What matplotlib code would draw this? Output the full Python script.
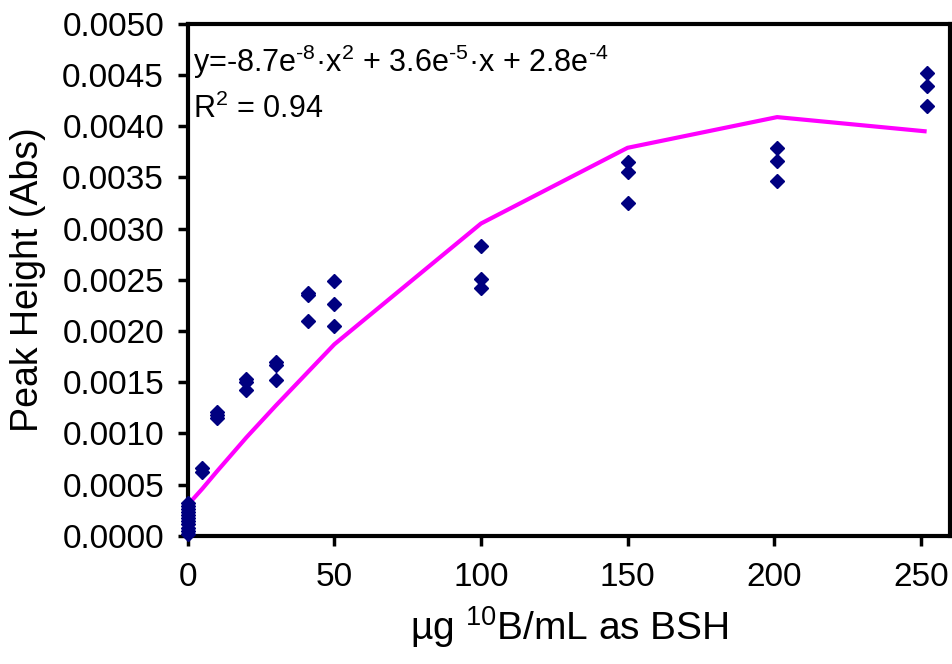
import matplotlib
matplotlib.use("Agg")
import matplotlib.pyplot as plt

plt.rcParams['font.family'] = ['Liberation Sans', 'DejaVu Sans']
plt.rcParams['mathtext.fontset'] = 'custom'
plt.rcParams['mathtext.rm'] = 'Liberation Sans'
plt.rcParams['mathtext.it'] = 'Liberation Sans'
plt.rcParams['mathtext.bf'] = 'Liberation Sans:bold'

# Measured data (x = µg 10B/mL, y = peak height in Abs)
x0_vals = [0] * 11
y0_vals = [0.00002, 0.00005, 0.00008, 0.00011, 0.00014, 0.00017, 0.00020,
           0.00023, 0.00026, 0.00029, 0.00032]
x_pts = [5, 5, 10, 10, 10, 20, 20, 20, 30, 30, 30, 41, 41, 41, 50, 50, 50,
         100, 100, 100, 150, 150, 150, 201, 201, 201, 252, 252, 252]
y_pts = [0.00066, 0.00062, 0.00121, 0.00118, 0.00115, 0.00153, 0.00150, 0.00142,
         0.00170, 0.00167, 0.00152, 0.00237, 0.00235, 0.00210, 0.00249, 0.00226,
         0.00205, 0.00283, 0.00251, 0.00242, 0.00365, 0.00355, 0.00325, 0.00379,
         0.00366, 0.00347, 0.00452, 0.00439, 0.00420]

# Fitted curve vertices (as drawn)
fit_x = [0, 5, 10, 20, 30, 41, 50, 100, 150, 201, 252]
fit_y = [0.00030, 0.00046, 0.00063, 0.00096, 0.00127, 0.00160, 0.00187,
         0.00305, 0.00379, 0.00409, 0.00395]

x_ticks = [0, 50, 100, 150, 200, 250]
y_ticks = [0.0000, 0.0005, 0.0010, 0.0015, 0.0020, 0.0025, 0.0030, 0.0035,
           0.0040, 0.0045, 0.0050]

fig = plt.figure(figsize=(9.52, 6.64), dpi=100)
ax = fig.add_axes([0.1972, 0.1932, 0.8008, 0.7707])

ax.plot(fit_x, fit_y, color='#FF00FF', lw=3, zorder=2, solid_capstyle='butt')
ax.plot(x0_vals + x_pts, y0_vals + y_pts, linestyle='none', marker='D',
        ms=7.5, color='#000080', mec='#000080', zorder=3, clip_on=False)

ax.set_xlim(0, 260)
ax.set_ylim(0, 0.005)
ax.set_xticks(x_ticks)
ax.set_yticks(y_ticks)
ax.set_xticklabels([str(v) for v in x_ticks])
ax.set_yticklabels([f"{v:.4f}" for v in y_ticks])

for s in ax.spines.values():
    s.set_linewidth(3)
ax.tick_params(direction='out', length=7, width=2.5, labelsize=24)
ax.tick_params(axis='y', pad=10)
ax.tick_params(axis='x', pad=12)

ax.set_ylabel('Peak Height (Abs)', fontsize=27, labelpad=12)
ax.set_xlabel('µg $^{10}$B/mL as BSH', fontsize=28, labelpad=8)

hy = '\u2010'
ax.text(0.007, 0.926,
        'y=' + hy + '8.7e$^{' + hy + '8}$·x$^{2}$ + 3.6e$^{' + hy + '5}$·x + 2.8e$^{' + hy + '4}$',
        transform=ax.transAxes, fontsize=22, ha='left', va='center')
ax.text(0.007, 0.834, 'R$^{2}$ = 0.94',
        transform=ax.transAxes, fontsize=22, ha='left', va='center')

fig.savefig('out.png', dpi=100)
